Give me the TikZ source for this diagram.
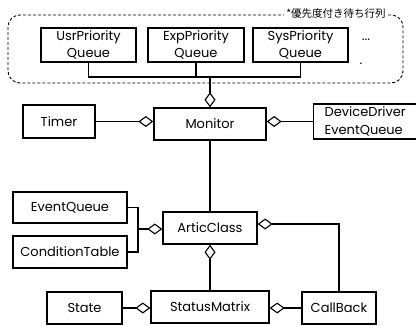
\documentclass[tikz,border=0pt]{standalone}
\usepackage{fontspec}
\setmainfont{Poppins}
\newfontfamily\cjkfont{Noto Sans CJK JP}
\usetikzlibrary{arrows.meta}
\tikzset{
  cls/.style={draw, line width=1.4pt, inner sep=0pt, align=center,
    font=\fontsize{13}{17}\selectfont},
  agg/.style={-{Diamond[open,length=15pt,width=11pt]}},
  conn/.style={line width=1.1pt},
}
\begin{document}
\begin{tikzpicture}[x=1pt,y=-1pt]
\useasboundingbox (0,0) rectangle (416,325);

% priority queue group
\draw[line width=0.9pt, dash pattern=on 3pt off 2pt, rounded corners=12pt]
  (8,15) rectangle (403,83);
\node[fill=white, inner sep=2pt, font=\cjkfont\fontsize{10.5}{12}\selectfont]
  (lbl) at (336,14) {*優先度付き待ち行列};

\node[cls, minimum width=95pt, minimum height=34pt] (usr) at (88.5,45) {UsrPriority\\Queue};
\node[cls, minimum width=96pt, minimum height=34pt] (exp) at (196,45) {ExpPriority\\Queue};
\node[cls, minimum width=95pt, minimum height=34pt] (sys) at (300.5,45) {SysPriority\\Queue};
\node[font=\fontsize{13}{14}\selectfont, inner sep=0pt] (more) at (366,40) {...};
\node[font=\fontsize{13}{14}\selectfont, inner sep=0pt] (dot) at (361,64) {.};

\node[cls, minimum width=112pt, minimum height=32pt] (mon) at (210,124) {Monitor};
\node[cls, minimum width=72pt, minimum height=33pt] (timer) at (59,121.5) {Timer};
\node[cls, minimum height=35pt, text width=90pt, inner xsep=11pt, align=left, anchor=west,
  font=\fontsize{13}{18}\selectfont] (ddq) at (313,121.5) {DeviceDriver\\EventQueue};

\node[cls, minimum width=114pt, minimum height=31pt] (evq) at (70,207.5) {EventQueue};
\node[cls, minimum width=114pt, minimum height=32pt] (cond) at (70,252) {ConditionTable};
\node[cls, minimum width=94pt, minimum height=32pt] (artic) at (210,228) {ArticClass};

\node[cls, minimum width=75pt, minimum height=32pt] (state) at (84.5,308) {State};
\node[cls, minimum width=118pt, minimum height=32pt] (sm) at (210,307) {StatusMatrix};
\node[cls, minimum width=74pt, minimum height=32pt] (cb) at (339,308) {CallBack};

% queue tree into Monitor
\coordinate (qj) at (210,77);
\draw[conn] (usr.south) |- (qj) -| (sys.south);
\draw[conn] (exp.south) -- (exp.south |- qj);
\draw[conn, agg] (qj) -- (mon.north);

% Monitor parts
\draw[conn, agg] (timer.east) -- (timer.east -| mon.west);
\draw[conn, agg] (ddq.west) -- (ddq.west -| mon.east);
\draw[conn] (mon.south) -- (artic.north);

% ArticClass parts
\coordinate (bx) at (138,229);
\draw[conn] (evq.east) -| (bx) |- (cond.east);
\draw[conn, agg] (bx) -- (bx -| artic.west);
\draw[conn, agg] (cb.north) |- ([yshift=4pt]artic.east);
\draw[conn, agg] (sm.north) -- (artic.south);

% StatusMatrix parts
\draw[conn, agg] (state.east) -- (state.east -| sm.west);
\draw[conn, agg] (cb.west) -- (cb.west -| sm.east);
\end{tikzpicture}
\end{document}
